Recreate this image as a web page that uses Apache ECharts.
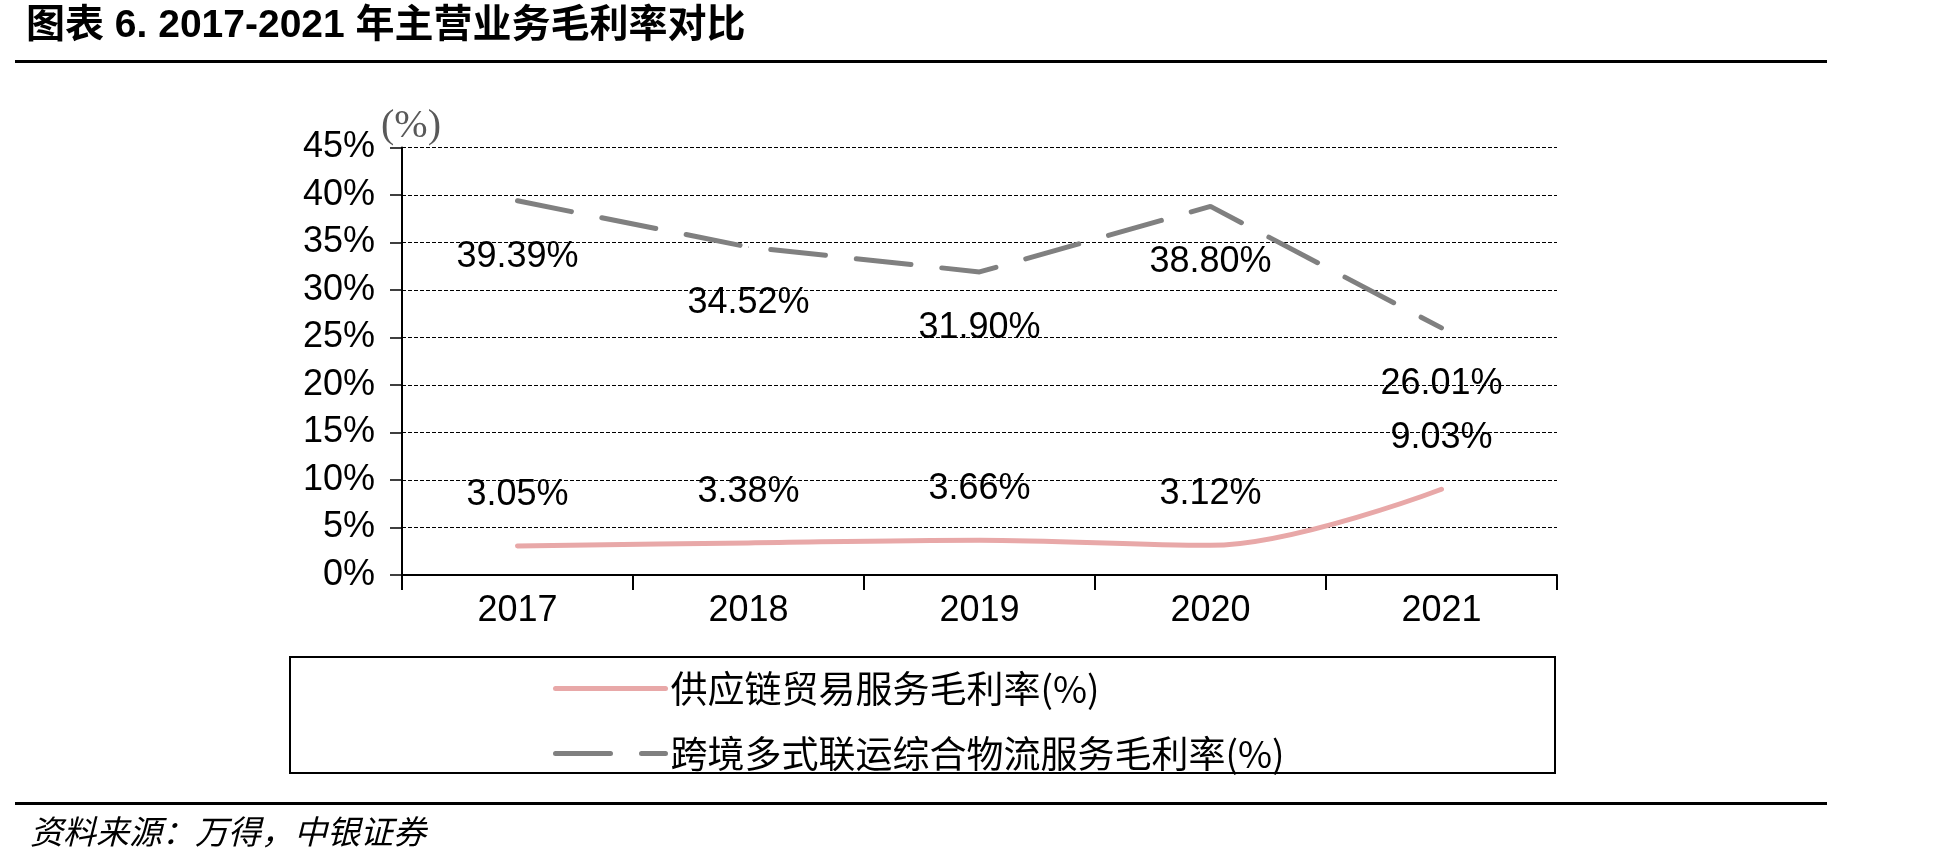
<!DOCTYPE html>
<html>
<head>
<meta charset="utf-8">
<script src="https://cdn.jsdelivr.net/npm/echarts@6/dist/echarts.min.js"></script>
<style>
html,body{margin:0;padding:0;background:#fff;}
#c{width:1948px;height:863px;}
</style>
</head>
<body>
<div id="c"></div>
<script>
// ---- data ----
const titleText = '图表 6. 2017-2021 年主营业务毛利率对比';
const sourceText = '资料来源：万得，中银证券';
const unitText = '(%)';
const years = ['2017', '2018', '2019', '2020', '2021'];
const seriesNames = ['供应链贸易服务毛利率(%)', '跨境多式联运综合物流服务毛利率(%)'];
const supplyChain = [3.05, 3.38, 3.66, 3.12, 9.03];
const crossBorder = [39.39, 34.52, 31.90, 38.80, 26.01];
const yMin = 0, yMax = 45, yStep = 5;

const chart = echarts.init(document.getElementById('c'), null, {renderer: 'canvas'});
const latin = "'Liberation Sans', Arial, sans-serif";
const cjk = "'Noto Sans CJK SC', sans-serif";

chart.setOption({
  backgroundColor: '#fff',
  animation: false,
  grid: {left: 402, right: 391, top: 147.5, bottom: 288, containLabel: false},
  xAxis: {
    type: 'category',
    data: years,
    boundaryGap: true,
    axisLine: {lineStyle: {color: '#000', width: 2}},
    axisTick: {show: true, length: 15, alignWithLabel: false, lineStyle: {color: '#000', width: 2}},
    axisLabel: {fontFamily: latin, fontSize: 36, color: '#000', margin: 18},
    splitLine: {show: false}
  },
  yAxis: {
    type: 'value',
    min: yMin, max: yMax, interval: yStep,
    axisLine: {show: true, lineStyle: {color: '#000', width: 2}},
    axisTick: {show: true, length: 12, lineStyle: {color: '#000', width: 1.5}},
    axisLabel: {fontFamily: latin, fontSize: 36, color: '#000', margin: 27, formatter: '{value}%'},
    splitLine: {show: true, lineStyle: {color: '#000', width: 1, type: [4, 2]}}
  },
  legend: {
    orient: 'vertical',
    left: 553, top: 670,
    padding: 0,
    itemWidth: 110, itemHeight: 36, itemGap: 28,
    itemStyle: {opacity: 0},
    lineStyle: {width: 5},
    textStyle: {fontFamily: cjk, fontSize: 37, color: '#000', lineHeight: 36},
    data: seriesNames
  },
  series: [
    {
      name: seriesNames[0],
      type: 'line',
      data: supplyChain,
      smooth: 0.35,
      symbol: 'circle', symbolSize: 1,
      itemStyle: {color: '#E8A8A8'},
      lineStyle: {color: '#E8A8A8', width: 5, cap: 'round'},
      label: {
        show: true, position: 'inside', offset: [0, -51],
        fontFamily: latin, fontSize: 36, color: '#000',
        formatter: p => p.value.toFixed(2) + '%'
      },
      z: 3
    },
    {
      name: seriesNames[1],
      type: 'line',
      data: crossBorder,
      smooth: false,
      symbol: 'circle', symbolSize: 1,
      itemStyle: {color: '#808080'},
      lineStyle: {color: '#808080', width: 5, type: [55, 31], cap: 'round'},
      label: {
        show: true, position: 'inside', offset: [0, 56],
        fontFamily: latin, fontSize: 36, color: '#000',
        formatter: p => p.value.toFixed(2) + '%'
      },
      z: 3
    }
  ],
  graphic: [
    {type: 'text', left: 26, top: 7,
     style: {text: titleText, font: "bold 39px 'Liberation Sans', 'Noto Sans CJK SC', sans-serif", fill: '#000'}},
    {type: 'rect', shape: {x: 15, y: 60, width: 1812, height: 3}, style: {fill: '#000'}},
    {type: 'text', x: 411, y: 126,
     style: {text: unitText, font: "40px 'Liberation Serif', serif", fill: '#595959', align: 'center', verticalAlign: 'middle'}},
    {type: 'rect', shape: {x: 290, y: 657, width: 1265, height: 116}, style: {fill: 'none', stroke: '#000', lineWidth: 2}, z: -1},
    {type: 'rect', shape: {x: 15, y: 802, width: 1812, height: 3}, style: {fill: '#000'}},
    {type: 'text', x: 30, y: 831,
     style: {text: sourceText, font: "italic 33px 'Noto Sans CJK SC', sans-serif", fill: '#000', verticalAlign: 'middle'}}
  ]
});
</script>
</body>
</html>
